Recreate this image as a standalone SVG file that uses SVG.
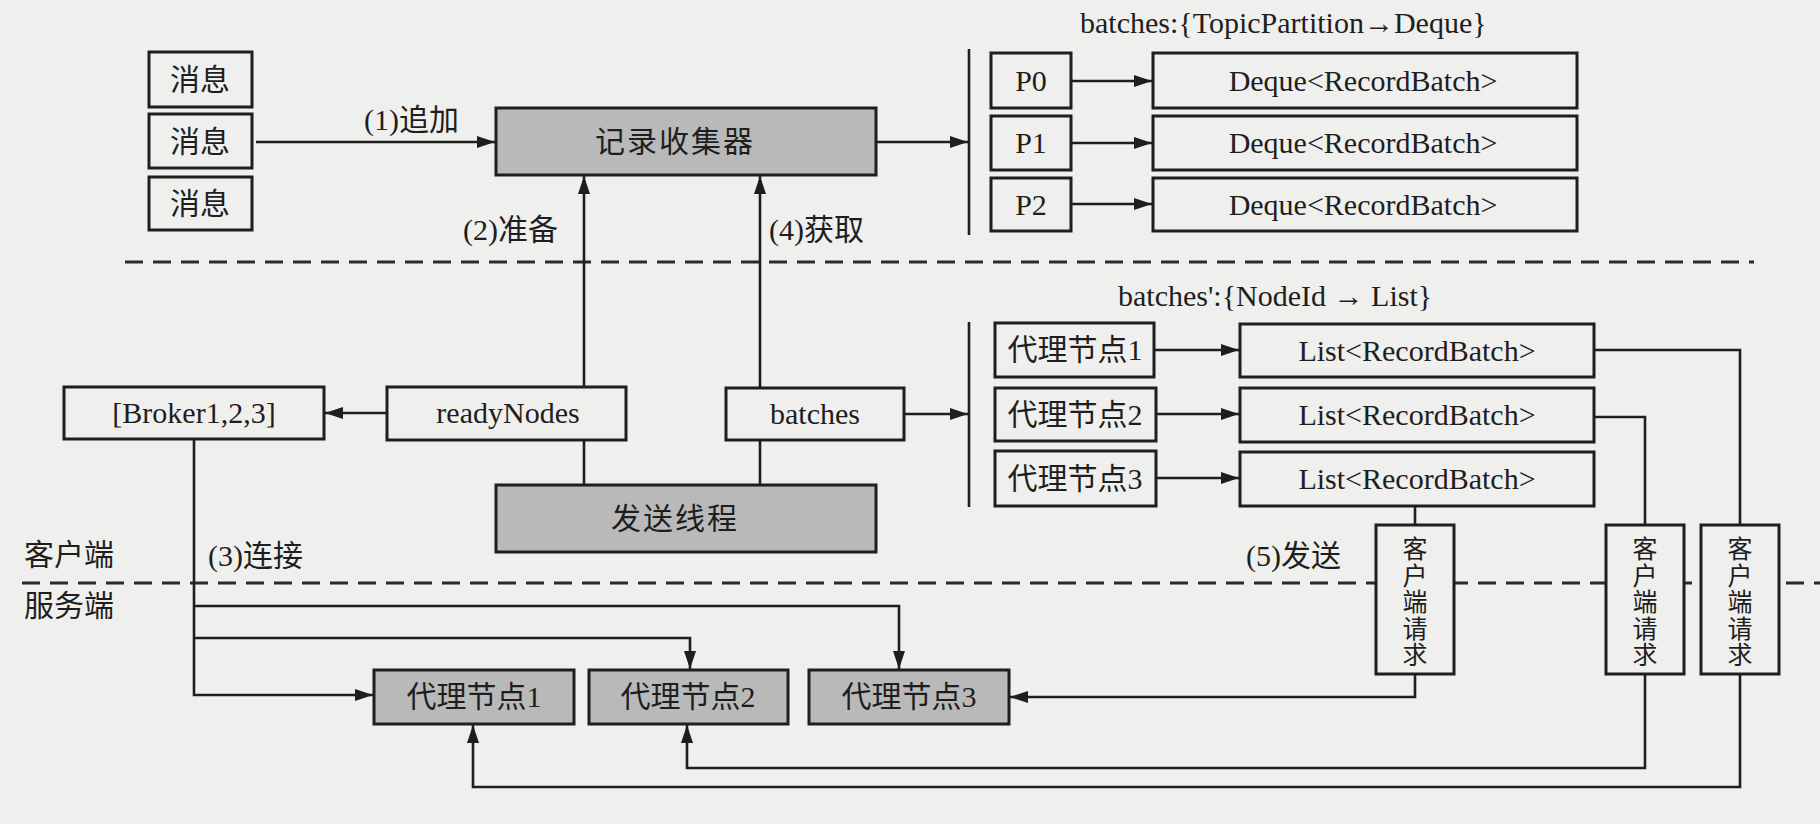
<svg xmlns="http://www.w3.org/2000/svg" width="1820" height="824" viewBox="0 0 1820 824">
<defs>
<style>
.bx{fill:#efefed;stroke:#1e1e1e;stroke-width:3}
.gb{fill:#b9b9b9;stroke:#1e1e1e;stroke-width:3}
.ln{fill:none;stroke:#1e1e1e;stroke-width:2.6}
.ar{fill:none;stroke:#1e1e1e;stroke-width:2.6;marker-end:url(#ah)}
.dash{fill:none;stroke:#2a2a2a;stroke-width:3;stroke-dasharray:18 10}
.t{font-family:"Liberation Serif","Noto Sans CJK SC",serif;font-size:30px;fill:#1e1e1e}
.c{text-anchor:middle}
.s{font-family:"Noto Sans CJK SC","Liberation Sans",sans-serif;font-size:30px;fill:#1e1e1e}
.v{font-family:"Liberation Serif","Noto Sans CJK SC",serif;font-size:25px;fill:#1e1e1e;text-anchor:middle}
</style>
<marker id="ah" markerUnits="userSpaceOnUse" markerWidth="18" markerHeight="12" refX="18" refY="6" orient="auto">
<path d="M0,0 L18,6 L0,12 z" fill="#1e1e1e"/>
</marker>
</defs>
<rect width="1820" height="824" fill="#efefed"/>

<g id="dividers">
<line class="dash" x1="125" y1="262" x2="1754" y2="262"/>
<line class="dash" x1="22" y1="583" x2="1820" y2="583"/>
<line class="ln" x1="969" y1="49" x2="969" y2="235"/>
<line class="ln" x1="969" y1="322" x2="969" y2="507"/>
</g>

<g id="connectors">
<line class="ar" x1="256" y1="142" x2="495" y2="142"/>
<line class="ar" x1="876" y1="142" x2="968" y2="142"/>
<line class="ar" x1="1071" y1="81" x2="1152" y2="81"/>
<line class="ar" x1="1071" y1="143" x2="1152" y2="143"/>
<line class="ar" x1="1071" y1="204" x2="1152" y2="204"/>
<line class="ar" x1="387" y1="413" x2="325" y2="413"/>
<line class="ar" x1="904" y1="414" x2="968" y2="414"/>
<line class="ar" x1="1155" y1="350" x2="1239" y2="350"/>
<line class="ar" x1="1156" y1="414" x2="1239" y2="414"/>
<line class="ar" x1="1156" y1="478" x2="1239" y2="478"/>
<line class="ar" x1="584" y1="387" x2="584" y2="176"/>
<line class="ln" x1="584" y1="485" x2="584" y2="440"/>
<line class="ar" x1="760" y1="388" x2="760" y2="176"/>
<line class="ln" x1="760" y1="485" x2="760" y2="440"/>
<path class="ar" d="M194,439 V695 H373"/>
<path class="ar" d="M194,606 H899 V669"/>
<path class="ar" d="M194,638 H690 V669"/>
<path class="ln" d="M1415,506 V525"/>
<path class="ln" d="M1594,350 H1740 V525"/>
<path class="ln" d="M1594,417 H1645 V525"/>
<path class="ar" d="M1415,674 V697 H1010"/>
<path class="ar" d="M1645,674 V768 H687 V725"/>
<path class="ar" d="M1740,674 V787 H473 V725"/>
</g>

<g id="msg1"><rect class="bx" x="149" y="52" width="103" height="55"/><text class="t c" x="200" y="90">消息</text></g>
<g id="msg2"><rect class="bx" x="149" y="114" width="103" height="54"/><text class="t c" x="200" y="152">消息</text></g>
<g id="msg3"><rect class="bx" x="149" y="177" width="103" height="53"/><text class="t c" x="200" y="214">消息</text></g>

<g id="accumulator"><rect class="gb" x="496" y="108" width="380" height="67"/><text class="t c" x="675" y="152" letter-spacing="2">记录收集器</text></g>

<g id="p0"><rect class="bx" x="991" y="53" width="80" height="55"/><text class="t c" x="1031" y="91">P0</text></g>
<g id="p1"><rect class="bx" x="991" y="116" width="80" height="54"/><text class="t c" x="1031" y="153">P1</text></g>
<g id="p2"><rect class="bx" x="991" y="178" width="80" height="53"/><text class="t c" x="1031" y="215">P2</text></g>

<g id="deque0"><rect class="bx" x="1153" y="53" width="424" height="55"/><text class="t c" x="1363" y="91">Deque&lt;RecordBatch&gt;</text></g>
<g id="deque1"><rect class="bx" x="1153" y="116" width="424" height="54"/><text class="t c" x="1363" y="153">Deque&lt;RecordBatch&gt;</text></g>
<g id="deque2"><rect class="bx" x="1153" y="178" width="424" height="53"/><text class="t c" x="1363" y="215">Deque&lt;RecordBatch&gt;</text></g>

<g id="broker-list"><rect class="bx" x="64" y="387" width="260" height="52"/><text class="t c" x="194" y="423">[Broker1,2,3]</text></g>
<g id="readyNodes"><rect class="bx" x="387" y="387" width="239" height="53"/><text class="t c" x="508" y="423">readyNodes</text></g>
<g id="batches"><rect class="bx" x="726" y="388" width="178" height="52"/><text class="t c" x="815" y="424">batches</text></g>
<g id="sender"><rect class="gb" x="496" y="485" width="380" height="67"/><text class="t c" x="675" y="529" letter-spacing="2">发送线程</text></g>

<g id="cn1"><rect class="bx" x="995" y="323" width="159" height="54"/><text class="t c" x="1075" y="360">代理节点1</text></g>
<g id="cn2"><rect class="bx" x="995" y="388" width="161" height="53"/><text class="t c" x="1075" y="425">代理节点2</text></g>
<g id="cn3"><rect class="bx" x="995" y="451" width="161" height="55"/><text class="t c" x="1075" y="489">代理节点3</text></g>

<g id="list1"><rect class="bx" x="1240" y="324" width="354" height="53"/><text class="t c" x="1417" y="361">List&lt;RecordBatch&gt;</text></g>
<g id="list2"><rect class="bx" x="1240" y="388" width="354" height="54"/><text class="t c" x="1417" y="425">List&lt;RecordBatch&gt;</text></g>
<g id="list3"><rect class="bx" x="1240" y="452" width="354" height="54"/><text class="t c" x="1417" y="489">List&lt;RecordBatch&gt;</text></g>

<g id="req1"><rect class="bx" x="1376" y="525" width="78" height="149"/><text class="v"><tspan x="1415" y="558">客</tspan><tspan x="1415" y="584.5">户</tspan><tspan x="1415" y="611">端</tspan><tspan x="1415" y="637.5">请</tspan><tspan x="1415" y="664">求</tspan></text></g>
<g id="req2"><rect class="bx" x="1606" y="525" width="78" height="149"/><text class="v"><tspan x="1645" y="558">客</tspan><tspan x="1645" y="584.5">户</tspan><tspan x="1645" y="611">端</tspan><tspan x="1645" y="637.5">请</tspan><tspan x="1645" y="664">求</tspan></text></g>
<g id="req3"><rect class="bx" x="1701" y="525" width="78" height="149"/><text class="v"><tspan x="1740" y="558">客</tspan><tspan x="1740" y="584.5">户</tspan><tspan x="1740" y="611">端</tspan><tspan x="1740" y="637.5">请</tspan><tspan x="1740" y="664">求</tspan></text></g>

<g id="sn1"><rect class="gb" x="374" y="670" width="200" height="54"/><text class="t c" x="474" y="707">代理节点1</text></g>
<g id="sn2"><rect class="gb" x="589" y="670" width="199" height="54"/><text class="t c" x="688" y="707">代理节点2</text></g>
<g id="sn3"><rect class="gb" x="809" y="670" width="200" height="54"/><text class="t c" x="909" y="707">代理节点3</text></g>

<g id="labels">
<text class="t" x="364" y="130">(1)追加</text>
<text class="t" x="463" y="240">(2)准备</text>
<text class="t" x="769" y="240">(4)获取</text>
<text class="t" x="208" y="566">(3)连接</text>
<text class="t" x="1246" y="566">(5)发送</text>
<text class="t" x="1080" y="33">batches:{TopicPartition→Deque}</text>
<text class="t" x="1118" y="306">batches':{NodeId → List}</text>
<text class="s" x="24" y="565">客户端</text>
<text class="s" x="24" y="616">服务端</text>
</g>
</svg>
